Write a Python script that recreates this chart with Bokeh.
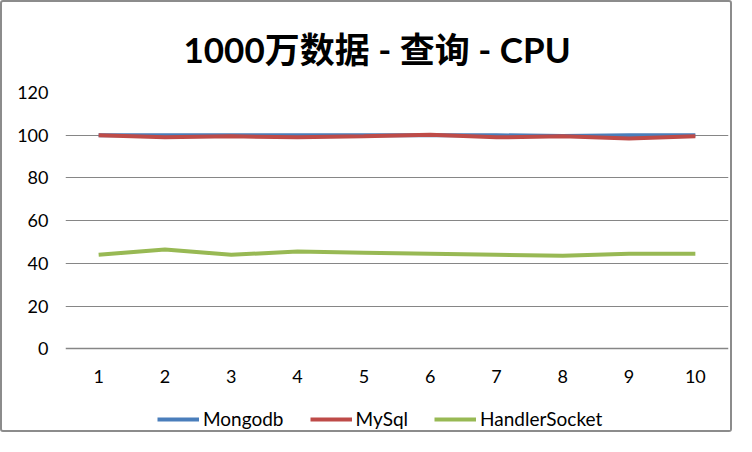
from bokeh.plotting import figure
from bokeh.models import ColumnDataSource, Legend, LegendItem, FixedTicker, Range1d
from bokeh.embed import file_html
from bokeh.resources import INLINE

runs = [1, 2, 3, 4, 5, 6, 7, 8, 9, 10]
mongodb = [100, 100, 100, 100, 100, 100, 100, 99.6, 100, 100]
mysql = [100, 99, 99.5, 99, 99.5, 100.2, 99, 99.5, 98.5, 99.5]
handlersocket = [44, 46.5, 44, 45.5, 45, 44.5, 44, 43.5, 44.5, 44.5]
y_ticks = [0, 20, 40, 60, 80, 100, 120]
title_text = "1000万数据 - 查询 - CPU"

FONT = "Lato, 'Noto Sans CJK SC', sans-serif"

W, H = 732, 432
TOP, LEFT, RIGHT = 89, 63, 6
Y0_PX = 346  # canvas pixel of value 0
y_max = 120
px_per_unit = (Y0_PX - TOP) / y_max
y_min = -(H - Y0_PX) / px_per_unit

p = figure(width=W, height=H, output_backend="svg", toolbar_location=None,
           x_range=Range1d(0.5, 10.5), y_range=Range1d(y_min, y_max),
           min_border_left=LEFT, min_border_right=RIGHT, min_border_top=TOP, min_border_bottom=0,
           title=title_text)
p.styles = {"border": "2px solid #8c8c8c", "border-radius": "3px"}

p.title.align = "left"
p.title.offset = 118
p.title.text_font = FONT
p.title.text_font_size = "35px"
p.title.text_font_style = "bold"
p.title.text_color = "#000000"
p.title.standoff = 46

p.background_fill_color = "white"
p.border_fill_color = "white"
p.outline_line_color = None

src = ColumnDataSource(dict(x=runs, m=mongodb, s=mysql, h=handlersocket))
r1 = p.line("x", "m", source=src, line_color="#4A7EBB", line_width=4)
r2 = p.line("x", "s", source=src, line_color="#BE4B48", line_width=4)
r3 = p.line("x", "h", source=src, line_color="#98B954", line_width=4)

# axes
p.xaxis.ticker = FixedTicker(ticks=runs)
p.yaxis.ticker = FixedTicker(ticks=y_ticks)
for ax in (p.xaxis, p.yaxis):
    ax.major_tick_line_color = None
    ax.minor_tick_line_color = None
    ax.major_tick_out = 0
    ax.major_tick_in = 0
    ax.minor_tick_out = 0
    ax.minor_tick_in = 0
    ax.major_label_text_font = FONT
    ax.major_label_text_font_size = "18px"
    ax.major_label_text_color = "#000000"
p.yaxis.axis_line_color = None
p.yaxis.major_label_standoff = 17
p.xaxis.fixed_location = 0
p.xaxis.axis_line_color = "#868686"
p.xaxis.axis_line_width = 1.5
p.xaxis.major_label_standoff = 21

p.xgrid.grid_line_color = None
p.ygrid.ticker = FixedTicker(ticks=y_ticks[1:])
p.ygrid.grid_line_color = "#868686"
p.ygrid.grid_line_width = 1.2

legend = Legend(items=[LegendItem(label="Mongodb", renderers=[r1]),
                       LegendItem(label="MySql", renderers=[r2]),
                       LegendItem(label="HandlerSocket", renderers=[r3])],
                orientation="horizontal", location=(92, 4))
legend.border_line_color = None
legend.background_fill_alpha = 0
legend.padding = 0
legend.margin = 0
legend.spacing = 26
legend.glyph_width = 42
legend.glyph_height = 20
legend.label_standoff = 4
legend.label_text_font = FONT
legend.label_text_font_size = "19px"
legend.label_text_color = "#000000"
p.add_layout(legend, "center")

open("out.html", "w").write(file_html(p, INLINE))
